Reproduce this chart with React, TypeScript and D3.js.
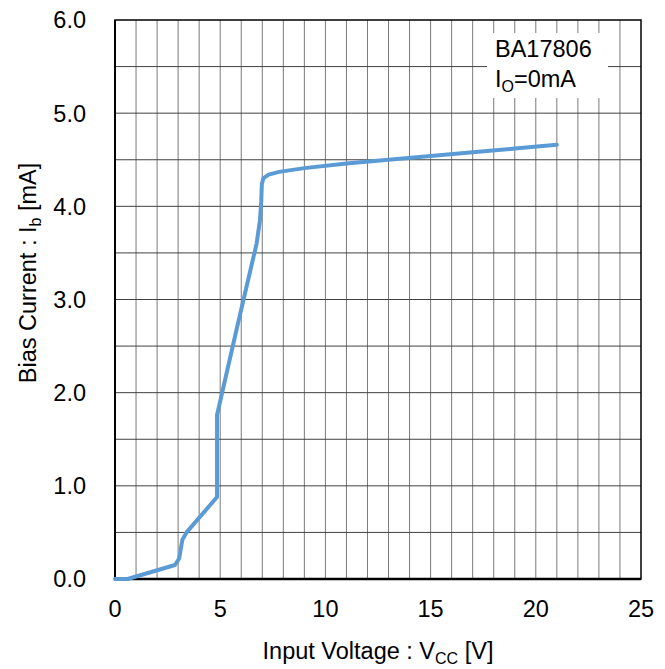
import React from "react";
import * as d3 from "d3";

const vcc = [0, 0.6, 2.85, 3.05, 3.2, 3.4, 4.85, 4.85, 5.8, 6.73, 6.89, 6.95, 6.98, 7.05, 7.3, 7.8, 9, 11, 13, 15, 17, 19, 21];
const ib = [0, 0, 0.15, 0.22, 0.42, 0.5, 0.88, 1.76, 2.7, 3.6, 3.85, 4.05, 4.24, 4.3, 4.34, 4.37, 4.41, 4.46, 4.5, 4.54, 4.58, 4.62, 4.66];
const xTicks = [0, 5, 10, 15, 20, 25];
const yTicks = [0, 1, 2, 3, 4, 5, 6];

const W = 665, H = 669;
const L = 115, R = 641, T = 20, B = 579;
const FONT = "Liberation Sans, Arial, sans-serif";
const FS = 23.5;
const SUB = 16;

export default function App() {
  const x = d3.scaleLinear().domain([0, 25]).range([L, R]);
  const y = d3.scaleLinear().domain([0, 6]).range([B, T]);
  const pts = vcc.map((v, i) => [v, ib[i]] as [number, number]);
  const line2 = d3.line<[number, number]>().x(d => x(d[0])).y(d => y(d[1]));
  const vGrid = d3.range(1, 25);
  const hGrid = d3.range(0.5, 6, 0.5);
  return (
    <svg width={W} height={H} style={{ position: "absolute", left: 0, top: 0 }} fontFamily={FONT}>
      <rect x={0} y={0} width={W} height={H} fill="#fff" />
      {vGrid.map(v => (
        <line key={"v" + v} x1={x(v)} x2={x(v)} y1={T} y2={B} stroke="#7a7a7a" strokeWidth={1} />
      ))}
      {hGrid.map(v => (
        <line key={"h" + v} x1={L} x2={R} y1={y(v)} y2={y(v)} stroke="#404040" strokeWidth={1} />
      ))}
      <rect x={487} y={33} width={121} height={65} fill="#fff" />
      <text x={495} y={57} fontSize={FS} fill="#000">BA17806</text>
      <text x={495} y={87} fontSize={FS} fill="#000">
        I<tspan fontSize={SUB} dy={5}>O</tspan><tspan dy={-5}>=0mA</tspan>
      </text>
      <rect x={L} y={T} width={R - L} height={B - T} fill="none" stroke="#000" strokeWidth={1.5} />
      <line x1={L} x2={L} y1={T} y2={B} stroke="#000" strokeWidth={2} />
      <line x1={L} x2={R} y1={B} y2={B} stroke="#000" strokeWidth={2.5} />
      <path d={line2(pts) || ""} fill="none" stroke="#5B9BD5" strokeWidth={4} strokeLinejoin="round" strokeLinecap="round" />
      {yTicks.map(v => (
        <text key={"yt" + v} x={86} y={y(v)} dy="0.36em" textAnchor="end" fontSize={FS} fill="#000">{v.toFixed(1)}</text>
      ))}
      {xTicks.map(v => (
        <text key={"xt" + v} x={x(v)} y={617} textAnchor="middle" fontSize={FS} fill="#000">{v}</text>
      ))}
      <text x={(L + R) / 2} y={659} textAnchor="middle" fontSize={FS} fill="#000">
        Input Voltage : V<tspan fontSize={SUB} dy={5}>CC</tspan><tspan dy={-5}> [V]</tspan>
      </text>
      <text transform={`translate(36,273) rotate(-90)`} textAnchor="middle" fontSize={FS} fill="#000">
        Bias Current : I<tspan fontSize={SUB} dy={5}>b</tspan><tspan dy={-5}> [mA]</tspan>
      </text>
    </svg>
  );
}
